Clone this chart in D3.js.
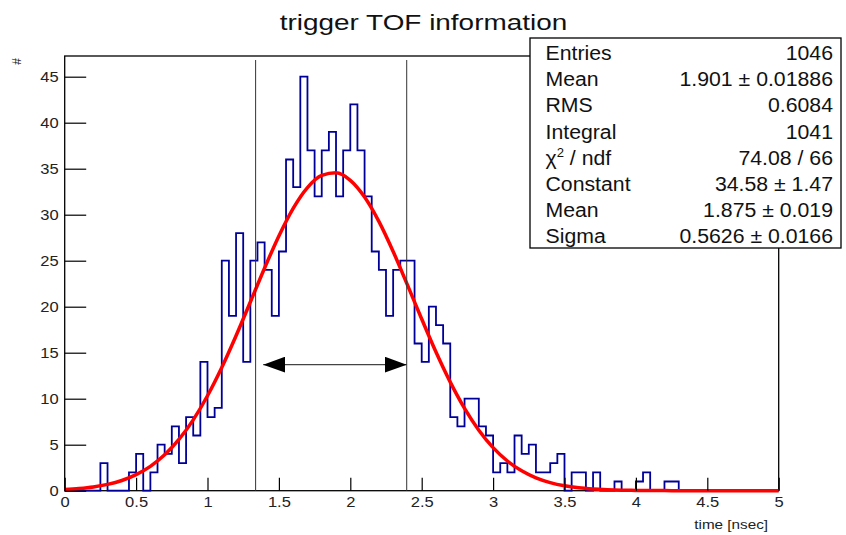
<!DOCTYPE html>
<html>
<head>
<meta charset="utf-8">
<script src="https://cdn.jsdelivr.net/npm/d3@7"></script>
<style>
body { margin: 0; background: #fff; }
svg { display: block; font-family: "Liberation Sans", Arial, sans-serif; }
</style>
</head>
<body>
<svg id="chart" width="846" height="535"></svg>
<script>
// histogram: 100 bins of 0.05 ns between 0 and 5
const binLow = 0;
const binWidth = 0.05;
const counts = [
  0, 0, 0, 0, 0, 3, 0, 0, 0, 2,
  4, 0, 2, 5, 4, 7, 3, 8, 6, 14,
  8, 9, 25, 19, 28, 14, 25, 27, 24, 19,
  26, 36, 33, 45, 37, 32, 37, 39, 32, 37,
  42, 37, 32, 26, 24, 19, 24, 25, 25, 16,
  14, 20, 18, 16, 8, 7, 10, 10, 7, 6,
  2, 3, 2, 6, 4, 5, 2, 2, 3, 4,
  0, 2, 2, 0, 2, 0, 0, 1, 0, 0,
  1, 2, 0, 0, 1, 1, 0, 0, 0, 0,
  0, 0, 0, 0, 0, 0, 0, 0, 0, 0
];

// red fit curve, read every 0.1 ns
const fitStep = 0.1;
const fitValues = [
  0.13, 0.24, 0.41, 0.69, 1.11, 1.75, 2.65, 3.90, 5.57, 7.70,
  10.32, 13.39, 16.84, 20.51, 24.21, 27.69, 30.69, 32.95, 34.27, 34.55,
  33.74, 31.92, 29.27, 26.00, 22.37, 18.66, 15.07, 11.80, 8.95, 6.58,
  4.68, 3.23, 2.16, 1.40, 0.88, 0.53, 0.31, 0.18, 0.10, 0.05,
  0.03, 0.01, 0.01, 0, 0, 0, 0, 0, 0, 0, 0
];

const cutLines = [1.337, 2.395];
const arrowFrom = 1.39;
const arrowTo = 2.395;
const arrowLevel = 13.7;

const statLabels = ['Entries', 'Mean', 'RMS', 'Integral', 'chi2', 'Constant', 'Mean', 'Sigma'];
const statValues = ['1046', '1.901 \u00b1 0.01886', '0.6084', '1041', '74.08 / 66',
                    '34.58 \u00b1 1.47', '1.875 \u00b1 0.019', '0.5626 \u00b1 0.0166'];

const xMajor = [0, 0.5, 1, 1.5, 2, 2.5, 3, 3.5, 4, 4.5, 5];
const yMajor = [0, 5, 10, 15, 20, 25, 30, 35, 40, 45];

const svg = d3.select('#chart');
const x = d3.scaleLinear().domain([0, 5]).range([64.7, 778.7]);
const y = d3.scaleLinear().domain([0, 47.25]).range([490.7, 56]);

// stretch text sideways, the picture is wider than the font
function widen(sel, k) {
  sel.each(function () {
    const w = this.getComputedTextLength();
    d3.select(this).attr('textLength', w * k).attr('lengthAdjust', 'spacingAndGlyphs');
  });
}

// frame
svg.append('rect')
  .attr('x', x(0)).attr('y', y(47.25))
  .attr('width', x(5) - x(0)).attr('height', y(0) - y(47.25))
  .attr('fill', 'none').attr('stroke', '#000').attr('stroke-width', 1.3);

// histogram outline
const steps = counts.map((c, i) => [binLow + i * binWidth, c]);
steps.push([binLow + counts.length * binWidth, counts[counts.length - 1]]);
const stepLine = d3.line().x(d => x(d[0])).y(d => y(d[1])).curve(d3.curveStepAfter);
svg.append('path')
  .attr('d', stepLine(steps))
  .attr('fill', 'none').attr('stroke', '#000099').attr('stroke-width', 1.8);

// fit
const fitLine = d3.line().x((d, i) => x(i * fitStep)).y(d => y(d)).curve(d3.curveMonotoneX);
svg.append('path')
  .attr('d', fitLine(fitValues))
  .attr('fill', 'none').attr('stroke', '#ff0000').attr('stroke-width', 3.5);

// cut lines
svg.selectAll('.cut').data(cutLines).enter().append('line')
  .attr('class', 'cut')
  .attr('x1', d => x(d)).attr('x2', d => x(d))
  .attr('y1', 60).attr('y2', y(0))
  .attr('stroke', '#333').attr('stroke-width', 1);

// double arrow
const defs = svg.append('defs');
defs.append('marker').attr('id', 'head')
  .attr('viewBox', '0 0 22 16').attr('refX', 22).attr('refY', 8)
  .attr('markerWidth', 22).attr('markerHeight', 16)
  .attr('markerUnits', 'userSpaceOnUse').attr('orient', 'auto-start-reverse')
  .append('path').attr('d', 'M0,0 L22,8 L0,16 Z').attr('fill', '#000');
svg.append('line')
  .attr('x1', x(arrowFrom)).attr('x2', x(arrowTo))
  .attr('y1', y(arrowLevel)).attr('y2', y(arrowLevel))
  .attr('stroke', '#444').attr('stroke-width', 1.4)
  .attr('marker-start', 'url(#head)').attr('marker-end', 'url(#head)');

// axes
function minorAxis(axis, values, size) {
  return axis.tickValues(values).tickSize(size).tickFormat('');
}
const gx = svg.append('g').attr('transform', `translate(0,${y(0)})`);
gx.call(minorAxis(d3.axisBottom(x), d3.range(0, 5.001, 0.1), -6.5));
gx.call(d3.axisBottom(x).tickValues(xMajor).tickSizeInner(-13).tickSizeOuter(0).tickPadding(6)
  .tickFormat(d3.format('~g')));
const gy = svg.append('g').attr('transform', `translate(${x(0)},0)`);
gy.call(minorAxis(d3.axisLeft(y), d3.range(0, 47.5, 1), -10.7));
gy.call(d3.axisLeft(y).tickValues(yMajor).tickSizeInner(-21.5).tickSizeOuter(0).tickPadding(6));
svg.selectAll('.domain').remove();
svg.selectAll('.tick line').attr('stroke', '#000').attr('stroke-width', 1.2);
svg.selectAll('.tick text')
  .attr('font-family', '"Liberation Sans", Arial, sans-serif')
  .attr('font-size', 14.5).attr('fill', '#222');
widen(gx.selectAll('.tick text'), 1.14);
widen(gy.selectAll('.tick text'), 1.14);

// axis titles
const xt = svg.append('text').attr('x', 768).attr('y', 529)
  .attr('text-anchor', 'end').attr('font-size', 12.5).attr('fill', '#222')
  .text('time [nsec]');
widen(xt, 1.22);
svg.append('text').attr('transform', 'translate(21,58) rotate(-90)')
  .attr('text-anchor', 'end').attr('font-size', 12).attr('fill', '#222')
  .text('#');

// title
const title = svg.append('text').attr('x', 423.5).attr('y', 30)
  .attr('text-anchor', 'middle').attr('font-size', 22.5).attr('fill', '#111')
  .text('trigger TOF information');
widen(title, 1.24);

// stats box
svg.append('rect')
  .attr('x', 530).attr('y', 38).attr('width', 311).attr('height', 210)
  .attr('fill', '#fff').attr('stroke', '#000').attr('stroke-width', 1.3);
const rowY = i => 60 + i * 26.2;
statLabels.forEach((lab, i) => {
  const t = svg.append('text').attr('x', 545.5).attr('y', rowY(i))
    .attr('font-size', 19.5).attr('fill', '#111');
  if (lab === 'chi2') {
    t.append('tspan').text('\u03c7');
    t.append('tspan').attr('dy', -8).attr('font-size', 12).text('2');
    t.append('tspan').attr('dy', 8).text(' / ndf');
  } else {
    t.text(lab);
  }
  widen(t, 1.09);
});
statValues.forEach((val, i) => {
  const t = svg.append('text').attr('x', 833).attr('y', rowY(i))
    .attr('text-anchor', 'end').attr('font-size', 19.5).attr('fill', '#111')
    .text(val);
  widen(t, 1.09);
});
</script>
</body>
</html>
